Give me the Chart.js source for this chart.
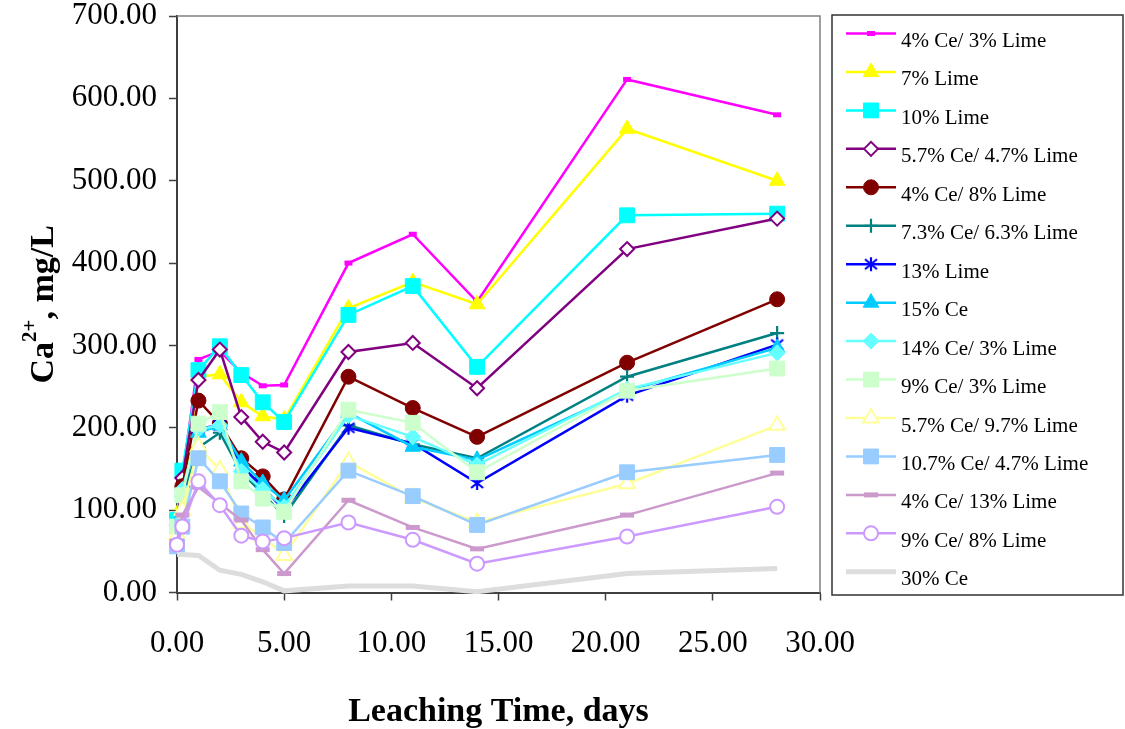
<!DOCTYPE html>
<html>
<head>
<meta charset="utf-8">
<script src="https://cdn.jsdelivr.net/npm/chart.js@4.4.1/dist/chart.umd.min.js"></script>
<style>
html, body { margin: 0; padding: 0; background: #fff; }
#wrap { width: 1125px; height: 729px; }
</style>
</head>
<body>
<div id="wrap"><canvas id="CaChart" width="1125" height="729"></canvas></div>
<script>
// leaching time (days) and Ca2+ concentration (mg/L) per mix
const days = [0, 0.25, 1, 2, 3, 4, 5, 8, 11, 14, 21, 28];

const ce4_lime3     = [85, 140, 283, 293, 267, 251, 252, 400, 435, 353, 623, 580];
const lime7         = [78, 106, 262, 265, 231, 214, 210, 345, 377, 350, 563, 500];
const lime10        = [88, 148, 270, 299, 264, 231, 207, 337, 372, 274, 458, 460];
const ce57_lime47   = [82, 139, 258, 295, 213, 183, 170, 292, 303, 248, 417, 454];
const ce4_lime8     = [80, 129, 233, 205, 163, 141, 113, 262, 224, 189, 279, 356];
const ce73_lime63   = [75, 115, 176, 194, 146, 120, 93, 203, 180, 163, 262, 315];
const lime13        = [72, 120, 199, 203, 154, 128, 100, 200, 181, 133, 239, 301];
const ce15          = [85, 122, 194, 203, 159, 133, 112, 218, 177, 161, 245, 297];
const ce14_lime3    = [82, 125, 198, 203, 147, 125, 104, 215, 189, 155, 247, 291];
const ce9_lime3     = [80, 118, 205, 219, 135, 114, 98, 222, 206, 146, 245, 272];
const ce57_lime97   = [70, 100, 177, 149, 84, 68, 45, 159, 115, 85, 132, 203];
const ce107_lime47  = [56, 80, 163, 135, 96, 79, 60, 148, 117, 82, 146, 167];
const ce4_lime13    = [62, 94, 128, 108, 88, 52, 23, 112, 79, 53, 94, 145];
const ce9_lime8     = [58, 80, 135, 106, 69, 62, 66, 85, 64, 35, 68, 104];
const ce30          = [46, 46, 45, 27, 22, 13, 2, 8, 8, 1, 23, 29];

const seriesNames = [
    '4% Ce/ 3% Lime', '7% Lime', '10% Lime', '5.7% Ce/ 4.7% Lime', '4% Ce/ 8% Lime',
    '7.3% Ce/ 6.3% Lime', '13% Lime', '15% Ce', '14% Ce/ 3% Lime', '9% Ce/ 3% Lime',
    '5.7% Ce/ 9.7% Lime', '10.7% Ce/ 4.7% Lime', '4% Ce/ 13% Lime', '9% Ce/ 8% Lime', '30% Ce'
];
const seriesValues = [
    ce4_lime3, lime7, lime10, ce57_lime47, ce4_lime8, ce73_lime63, lime13, ce15,
    ce14_lime3, ce9_lime3, ce57_lime97, ce107_lime47, ce4_lime13, ce9_lime8, ce30
];

const yTicks = [0, 100, 200, 300, 400, 500, 600, 700];
const xTicks = [0, 5, 10, 15, 20, 25, 30];

// asterisk marker: vertical bar plus an X
function asterisk(color) {
    const c = document.createElement('canvas');
    c.width = 16; c.height = 16;
    const g = c.getContext('2d');
    g.strokeStyle = color;
    g.lineWidth = 2.2;
    g.beginPath();
    g.moveTo(8, 1); g.lineTo(8, 15);
    g.moveTo(2, 3); g.lineTo(14, 13);
    g.moveTo(14, 3); g.lineTo(2, 13);
    g.stroke();
    return c;
}

const looks = [
    { color: '#FF00FF', style: 'line', r: 4, bw: 5 },
    { color: '#FFFF00', style: 'triangle', r: 9 },
    { color: '#00FFFF', style: 'rect', r: 10.5 },
    { color: '#800080', style: 'rectRot', r: 7, hollow: true },
    { color: '#800000', style: 'circle', r: 7.5 },
    { color: '#008080', style: 'cross', r: 7, bw: 2.2 },
    { color: '#0000FF', style: asterisk('#0000FF'), r: 8 },
    { color: '#00CCFF', style: 'triangle', r: 9 },
    { color: '#66FFFF', style: 'rectRot', r: 8 },
    { color: '#CCFFCC', style: 'rect', r: 10.5 },
    { color: '#FFFF99', style: 'triangle', r: 9, hollow: true },
    { color: '#99CCFF', style: 'rect', r: 10.5 },
    { color: '#CC99CC', style: 'line', r: 7, bw: 5 },
    { color: '#CC99FF', style: 'circle', r: 7, hollow: true },
    { color: '#DDDDDD', style: false, r: 0, width: 5 }
];

const datasets = seriesValues.map((vals, i) => {
    const lk = looks[i];
    return {
        label: seriesNames[i],
        data: days.map((d, k) => ({ x: d, y: vals[k] })),
        borderColor: lk.color,
        backgroundColor: lk.color,
        borderWidth: lk.width || 2.5,
        pointStyle: lk.style,
        pointRadius: lk.r,
        pointHoverRadius: lk.r,
        pointBorderColor: lk.color,
        pointBackgroundColor: lk.hollow ? '#FFFFFF' : lk.color,
        pointBorderWidth: lk.bw || (lk.hollow ? 2 : 1),
        tension: 0,
        fill: false,
        clip: false,
        order: seriesValues.length - i
    };
});

const serif = "'Liberation Serif', 'Times New Roman', serif";

// frame on top/right of plot area
const plotFrame = {
    id: 'plotFrame',
    beforeDatasetsDraw(chart) {
        const { ctx, chartArea: a } = chart;
        ctx.save();
        ctx.strokeStyle = '#808080';
        ctx.lineWidth = 1.5;
        ctx.beginPath();
        ctx.moveTo(a.left, a.top);
        ctx.lineTo(a.right, a.top);
        ctx.lineTo(a.right, a.bottom);
        ctx.stroke();
        ctx.restore();
    }
};

// y axis title with superscript charge
const yTitle = {
    id: 'yTitle',
    afterDraw(chart) {
        const { ctx, chartArea: a } = chart;
        const big = 'bold 34px ' + serif;
        const small = 'bold 21px ' + serif;
        ctx.save();
        ctx.fillStyle = '#000';
        ctx.textBaseline = 'alphabetic';
        ctx.textAlign = 'left';
        ctx.font = big;
        const w1 = ctx.measureText('Ca').width;
        const w3 = ctx.measureText(', mg/L').width;
        ctx.font = small;
        const w2 = ctx.measureText('2+').width;
        const total = w1 + w2 + w3;
        ctx.translate(53, (a.top + a.bottom) / 2);
        ctx.rotate(-Math.PI / 2);
        let x = -total / 2;
        ctx.font = big;
        ctx.fillText('Ca', x, 0);
        x += w1;
        ctx.font = small;
        ctx.fillText('2+', x, -17);
        x += w2;
        ctx.font = big;
        ctx.fillText(', mg/L', x, 0);
        ctx.restore();
    }
};

// boxed legend to the right of the plot
const sideLegend = {
    id: 'sideLegend',
    afterDraw(chart) {
        const { ctx } = chart;
        const box = { left: 832, top: 15, right: 1123, bottom: 595 };
        ctx.save();
        ctx.strokeStyle = '#333';
        ctx.lineWidth = 1.5;
        ctx.strokeRect(box.left, box.top, box.right - box.left, box.bottom - box.top);
        ctx.font = '21px ' + serif;
        ctx.textBaseline = 'alphabetic';
        ctx.textAlign = 'left';
        chart.data.datasets.forEach((ds, i) => {
            const y = 33.5 + i * 38.45;
            const lk = looks[i];
            ctx.strokeStyle = ds.borderColor;
            ctx.lineWidth = ds.borderWidth;
            ctx.beginPath();
            ctx.moveTo(846, y);
            ctx.lineTo(896, y);
            ctx.stroke();
            if (lk.style) {
                ctx.fillStyle = ds.pointBackgroundColor;
                ctx.strokeStyle = ds.pointBorderColor;
                ctx.lineWidth = ds.pointBorderWidth;
                Chart.helpers.drawPoint(ctx, {
                    pointStyle: lk.style, rotation: 0,
                    radius: lk.r, borderWidth: ds.pointBorderWidth
                }, 871, y);
            }
            ctx.fillStyle = '#000';
            ctx.fillText(ds.label, 901, y + 13.5);
        });
        ctx.restore();
    }
};

new Chart(document.getElementById('CaChart'), {
    type: 'line',
    data: { datasets: datasets },
    plugins: [plotFrame, yTitle, sideLegend],
    options: {
        responsive: false,
        animation: false,
        devicePixelRatio: 1,
        layout: { padding: { left: 0, top: 16, right: 305, bottom: 0 } },
        plugins: {
            legend: { display: false },
            tooltip: { enabled: false }
        },
        scales: {
            x: {
                type: 'linear',
                min: 0,
                max: 30,
                afterFit(scale) { scale.height = 136.5; },
                afterBuildTicks(scale) { scale.ticks = xTicks.map(v => ({ value: v })); },
                ticks: {
                    color: '#000',
                    padding: 25,
                    maxRotation: 0,
                    font: { family: serif, size: 31 },
                    callback: v => v.toFixed(2)
                },
                grid: { drawOnChartArea: false, drawTicks: true, tickLength: 8, color: '#404040', tickWidth: 1.5 },
                border: { display: true, color: '#404040', width: 2 },
                title: {
                    display: true,
                    text: 'Leaching Time, days',
                    color: '#000',
                    font: { family: serif, size: 34, weight: 'bold', lineHeight: 1 },
                    padding: { top: 0, bottom: 0 }
                }
            },
            y: {
                min: 0,
                max: 700,
                afterFit(scale) {
                    scale.width = 177;
                    scale.paddingTop = 0;
                    scale.paddingBottom = 0;
                },
                afterBuildTicks(scale) { scale.ticks = yTicks.map(v => ({ value: v })); },
                ticks: {
                    color: '#000',
                    padding: 12,
                    font: { family: serif, size: 31, lineHeight: 1 },
                    callback: v => v.toFixed(2)
                },
                grid: { drawOnChartArea: false, drawTicks: true, tickLength: 8, color: '#404040', tickWidth: 1.5 },
                border: { display: true, color: '#404040', width: 2 }
            }
        }
    }
});
</script>
</body>
</html>
